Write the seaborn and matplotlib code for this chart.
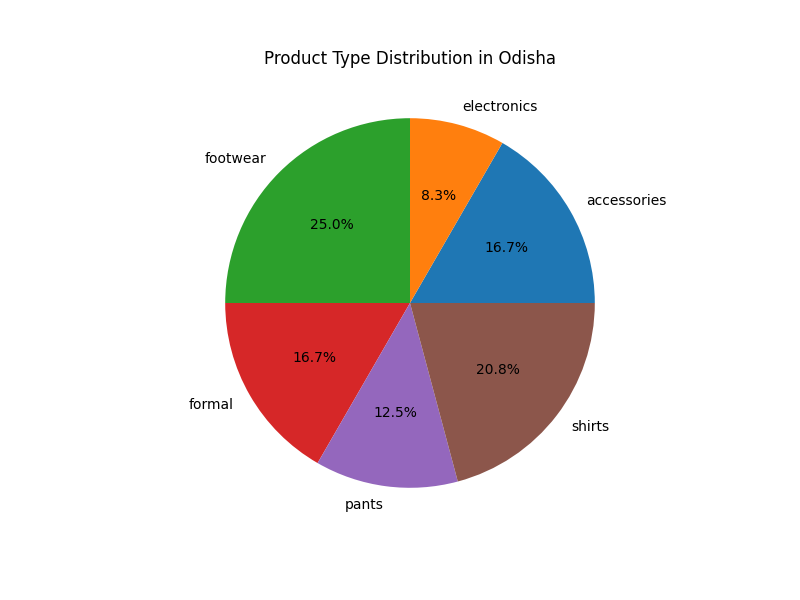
import matplotlib
matplotlib.use("Agg")
import matplotlib.pyplot as plt
import seaborn as sns

# product type counts in Odisha
product_types = ["accessories", "electronics", "footwear", "formal", "pants", "shirts"]
counts = [4, 2, 6, 4, 3, 5]

plt.figure(figsize=(8, 6))
plt.pie(
    counts,
    labels=product_types,
    autopct="%1.1f%%",
    colors=sns.color_palette("tab10", len(counts)),
)
plt.title("Product Type Distribution in Odisha")
plt.savefig("out.png", dpi=100)
plt.close()
